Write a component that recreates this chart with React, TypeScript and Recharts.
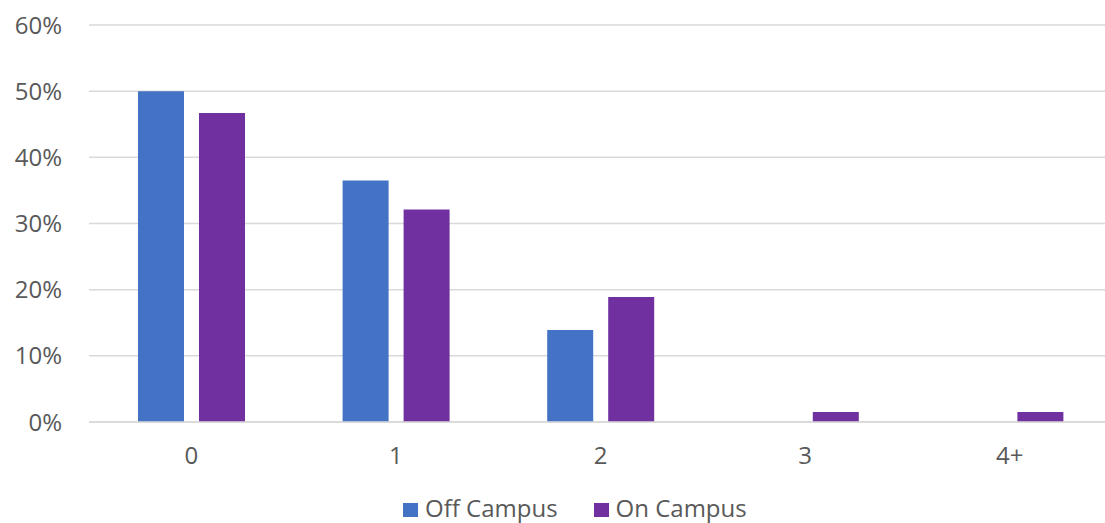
import { Bar, BarChart, CartesianGrid, XAxis, YAxis } from "recharts";

const categories = ["0", "1", "2", "3", "4+"];
const offCampus = [50, 36.5, 13.9, 0, 0];
const onCampus = [46.7, 32.1, 18.9, 1.5, 1.5];
const yTicks = [0, 10, 20, 30, 40, 50, 60];

const OFF_COLOR = "#4472C4";
const ON_COLOR = "#7030A0";
const TEXT_COLOR = "#595959";
const GRID_COLOR = "#d9d9d9";
const FONT = "'Open Sans', 'Noto Sans', sans-serif";

const rows = categories.map((name, i) => ({
  name,
  off: offCampus[i],
  on: onCampus[i],
}));

const legendItems = [
  { label: "Off Campus", color: OFF_COLOR },
  { label: "On Campus", color: ON_COLOR },
];

function LegendRow() {
  return (
    <div
      style={{
        position: "absolute",
        left: 403,
        top: 496,
        display: "flex",
        gap: 36,
        fontFamily: FONT,
        fontSize: 24,
        lineHeight: "24px",
        color: TEXT_COLOR,
      }}
    >
      {legendItems.map((item) => (
        <span key={item.label} style={{ display: "inline-flex", alignItems: "center", gap: 7 }}>
          <span style={{ width: 15, height: 14, background: item.color, display: "inline-block", marginTop: 3 }} />
          {item.label}
        </span>
      ))}
    </div>
  );
}

export default function App() {
  return (
    <div style={{ position: "fixed", left: 0, top: 0, width: 1105, height: 523, background: "#fff", overflow: "hidden" }}>
      <BarChart
        width={1105}
        height={523}
        data={rows}
        margin={{ top: 25, right: -7, bottom: 0, left: 0 }}
        barSize={46}
        barGap={15}
      >
        <CartesianGrid vertical={false} stroke={GRID_COLOR} strokeWidth={1.5} />
        <XAxis
          dataKey="name"
          tickLine={false}
          tickSize={0}
          tickMargin={25}
          axisLine={{ stroke: GRID_COLOR, strokeWidth: 1.5 }}
          tick={{ fill: TEXT_COLOR, fontSize: 24, fontFamily: FONT }}
          height={101}
        />
        <YAxis
          domain={[0, 60]}
          ticks={yTicks}
          tickFormatter={(v) => `${v}%`}
          tickLine={false}
          tickSize={0}
          tickMargin={27}
          axisLine={false}
          width={89}
          interval={0}
          tick={{ fill: TEXT_COLOR, fontSize: 24, fontFamily: FONT }}
        />
        <Bar dataKey="off" name="Off Campus" fill={OFF_COLOR} isAnimationActive={false} />
        <Bar dataKey="on" name="On Campus" fill={ON_COLOR} isAnimationActive={false} />
      </BarChart>
      <LegendRow />
    </div>
  );
}
